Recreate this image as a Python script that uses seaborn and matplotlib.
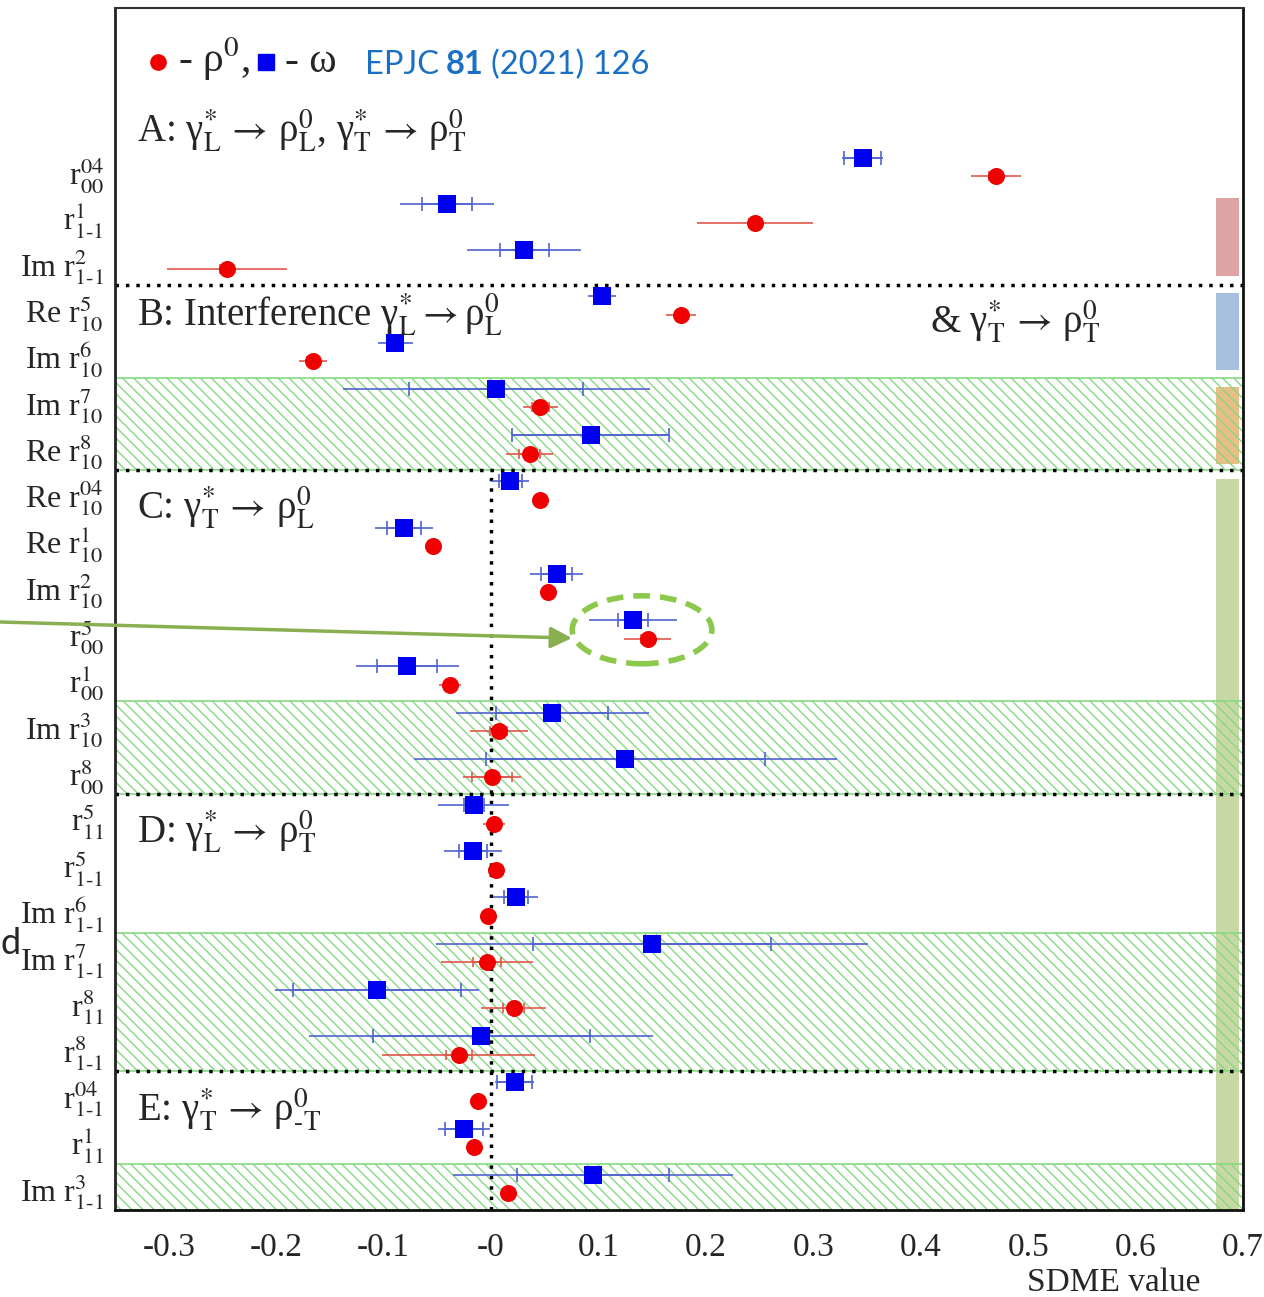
import matplotlib
matplotlib.use('Agg')
import numpy as np
import pandas as pd
import seaborn as sns
import matplotlib.pyplot as plt
from matplotlib.patches import Ellipse, Rectangle

# SDME names from top to bottom
sdme_labels = [
    r'r$^{04}_{00}$', r'r$^{1}_{1\text{-}1}$', r'Im r$^{2}_{1\text{-}1}$',
    r'Re r$^{5}_{10}$', r'Im r$^{6}_{10}$', r'Im r$^{7}_{10}$', r'Re r$^{8}_{10}$',
    r'Re r$^{04}_{10}$', r'Re r$^{1}_{10}$', r'Im r$^{2}_{10}$', r'r$^{5}_{00}$',
    r'r$^{1}_{00}$', r'Im r$^{3}_{10}$', r'r$^{8}_{00}$',
    r'r$^{5}_{11}$', r'r$^{5}_{1\text{-}1}$', r'Im r$^{6}_{1\text{-}1}$',
    r'Im r$^{7}_{1\text{-}1}$', r'r$^{8}_{11}$', r'r$^{8}_{1\text{-}1}$',
    r'r$^{04}_{1\text{-}1}$', r'r$^{1}_{11}$', r'Im r$^{3}_{1\text{-}1}$',
]

# omega: value, total error, statistical error
omega_val = [0.346, -0.041, 0.031, 0.103, -0.089, 0.005, 0.093, 0.018, -0.081, 0.061,
             0.132, -0.078, 0.057, 0.125, -0.016, -0.017, 0.023, 0.150, -0.106, -0.009,
             0.022, -0.025, 0.095]
omega_tot = [0.019, 0.044, 0.053, 0.013, 0.016, 0.143, 0.073, 0.017, 0.027, 0.025,
             0.041, 0.048, 0.090, 0.197, 0.033, 0.027, 0.021, 0.201, 0.095, 0.160,
             0.018, 0.024, 0.130]
omega_stat = [0.017, 0.023, 0.023, 0.007, 0.007, 0.081, 0.073, 0.011, 0.016, 0.014,
              0.014, 0.028, 0.052, 0.130, 0.0095, 0.013, 0.011, 0.111, 0.078, 0.101,
              0.016, 0.018, 0.071]

# rho0: value, total error, statistical error
rho_val = [0.470, 0.246, -0.246, 0.177, -0.166, 0.046, 0.036, 0.046, -0.054, 0.053,
           0.146, -0.038, 0.007, 0.001, 0.003, 0.005, -0.003, -0.004, 0.021, -0.030,
           -0.012, -0.016, 0.016]
rho_tot = [0.023, 0.054, 0.056, 0.014, 0.013, 0.016, 0.022, 0.005, 0.005, 0.005,
           0.022, 0.010, 0.027, 0.027, 0.010, 0.005, 0.005, 0.043, 0.030, 0.071,
           0.005, 0.005, 0.008]
rho_stat = [0.006, 0.006, 0.006, 0.005, 0.005, 0.008, 0.010, 0.004, 0.004, 0.004,
            0.006, 0.005, 0.008, 0.019, 0.005, 0.004, 0.004, 0.013, 0.010, 0.012,
            0.004, 0.004, 0.005]

xtick_vals = [-0.3, -0.2, -0.1, 0.0, 0.1, 0.2, 0.3, 0.4, 0.5, 0.6, 0.7]
xtick_text = ['-0.3', '-0.2', '-0.1', '-0', '0.1', '0.2', '0.3', '0.4', '0.5', '0.6', '0.7']

sns.set_style('white')
plt.rcParams['font.family'] = ['Liberation Serif', 'DejaVu Serif']
plt.rcParams['mathtext.fontset'] = 'stix'
plt.rcParams['hatch.linewidth'] = 1.0

n = len(sdme_labels)
top = np.arange(n, 0, -1)          # upper edge of each row
omega_y = top - 0.24
rho_y = top - 0.64

df_o = pd.DataFrame({'value': omega_val, 'pos': omega_y})
df_r = pd.DataFrame({'value': rho_val, 'pos': rho_y})

W, H = 1264, 1297
fig = plt.figure(figsize=(W / 100, H / 100), dpi=100)
ax = fig.add_axes([115 / W, 1 - 1210 / H, 1128 / W, 1202 / H])
ax.set_xlim(-0.35, 0.7)
ax.set_ylim(0, 26)

# hatched bands
for lo, hi in [(16, 18), (9, 11), (3, 6), (0, 1)]:
    ax.axhspan(lo, hi, facecolor='none', edgecolor='#86d983', hatch='\\\\\\',
               linewidth=1.2, zorder=0.5)

# side colour bars
for y0, y1, c in [(20.2, 21.9, '#dea3a3'), (18.17, 19.84, '#a6bfdd'),
                  (16.14, 17.8, '#e8bd86'), (0, 15.81, '#c8d8a4')]:
    ax.add_patch(Rectangle((0.675, y0), 0.021, y1 - y0, facecolor=c,
                           edgecolor='none', zorder=0.3))

# separators
for k in [20, 16, 9, 3]:
    ax.axhline(k, color='black', ls=(0, (1, 2)), lw=2.5, zorder=2)
ax.vlines(0, 0, 16, color='black', ls=(0, (1, 2)), lw=2.5, zorder=2)

# error bars
ax.errorbar(omega_val, omega_y, xerr=omega_tot, fmt='none', ecolor='#5064cf',
            elinewidth=1.2, zorder=3)
ax.errorbar(omega_val, omega_y, xerr=omega_stat, fmt='none', ecolor='#5064cf',
            elinewidth=1.2, capsize=5, capthick=1.2, zorder=3)
ax.errorbar(rho_val, rho_y, xerr=rho_tot, fmt='none', ecolor='#e0574a',
            elinewidth=1.2, zorder=3)
ax.errorbar(rho_val, rho_y, xerr=rho_stat, fmt='none', ecolor='#e0574a',
            elinewidth=1.2, capsize=3.5, capthick=1.2, zorder=3)

sns.scatterplot(data=df_o, x='value', y='pos', marker='s', color='#0000f0', s=170,
                linewidth=0, ax=ax, zorder=4)
sns.scatterplot(data=df_r, x='value', y='pos', marker='o', color='#f00000', s=150,
                linewidth=0, ax=ax, zorder=4)

# axes cosmetics
ax.set_xlabel('')
ax.set_ylabel('')
ax.set_yticks(top - 0.5)
ax.set_yticklabels(sdme_labels, fontsize=23)
ax.set_yticks(np.arange(0, 27), minor=True)
ax.tick_params(axis='y', which='major', length=0, pad=8)
ax.tick_params(axis='y', which='minor', direction='in', length=8, width=1.2)
ax.set_xticks(xtick_vals)
ax.set_xticklabels(xtick_text, fontsize=24)
ax.set_xticks(np.arange(-0.34, 0.7, 0.02), minor=True)
ax.tick_params(axis='x', which='major', direction='in', length=13, width=1.2, pad=16)
ax.tick_params(axis='x', which='minor', direction='in', length=6, width=1.0)
for side, lw, c in [('left', 2, '#222222'), ('bottom', 2, '#111111'),
                    ('right', 2, '#111111'), ('top', 1.5, '#333333')]:
    ax.spines[side].set_linewidth(lw)
    ax.spines[side].set_color(c)

fig.text(1200 / W, 1 - 1283 / H, 'SDME value', fontsize=24, ha='right', va='center')

# section titles
sec_kw = dict(fontsize=28, ha='left', va='baseline')
arr = r'\,\rightarrow\,'
fig.text(137 / W, 1 - 142 / H,
         r'A: γ$^{*}_{\mathrm{L}}' + arr + r'$ρ$^{0}_{\mathrm{L}}$, γ$^{*}_{\mathrm{T}}'
         + arr + r'$ρ$^{0}_{\mathrm{T}}$', **sec_kw)
fig.text(137 / W, 1 - 326 / H,
         r'B: Interference γ$^{*}_{\mathrm{L}}\rightarrow$ρ$^{0}_{\mathrm{L}}$', **sec_kw)
fig.text(930 / W, 1 - 333 / H,
         r'& γ$^{*}_{\mathrm{T}}' + arr + r'$ρ$^{0}_{\mathrm{T}}$', **sec_kw)
fig.text(137 / W, 1 - 519 / H,
         r'C: γ$^{*}_{\mathrm{T}}' + arr + r'$ρ$^{0}_{\mathrm{L}}$', **sec_kw)
fig.text(137 / W, 1 - 843 / H,
         r'D: γ$^{*}_{\mathrm{L}}' + arr + r'$ρ$^{0}_{\mathrm{T}}$', **sec_kw)
fig.text(137 / W, 1 - 1121 / H,
         r'E: γ$^{*}_{\mathrm{T}}' + arr + r'$ρ$^{0}_{\text{-T}}$', **sec_kw)

# legend line
ax.plot([-0.310], [24.83], marker='o', color='#f00000', ms=11, ls='none')
ax.plot([-0.2095], [24.83], marker='s', color='#0000f0', ms=11, ls='none')
fig.text(178 / W, 1 - 72 / H, r'- ρ$^{0}$,', fontsize=30, ha='left', va='baseline')
fig.text(285 / W, 1 - 72 / H, '- ω', fontsize=30, ha='left', va='baseline')

ref_kw = dict(fontsize=23.5, color='#1a70c4', family=['Lato', 'DejaVu Sans'],
              ha='left', va='baseline')
t1 = fig.text(365 / W, 1 - 74 / H, 'EPJC', **ref_kw)
fig.canvas.draw()
x1 = t1.get_window_extent().x1 + 7
t2 = fig.text(x1 / W, 1 - 74 / H, '81', fontweight='bold', **ref_kw)
fig.canvas.draw()
x2 = t2.get_window_extent().x1 + 7
fig.text(x2 / W, 1 - 74 / H, '(2021) 126', **ref_kw)

# highlight
ax.add_patch(Ellipse((0.1406, 12.55), 0.130, 1.47, fill=False, ls=(0, (3, 1.8)),
                     lw=4, ec='#8cc84b', zorder=5))
ax.annotate('', xy=(0.0754, 12.37), xytext=(0.0, 1 - 622 / H),
            textcoords='figure fraction',
            arrowprops=dict(arrowstyle='-|>', color='#8aaf50', lw=2.5,
                            mutation_scale=32, shrinkA=0, shrinkB=0),
            annotation_clip=False, zorder=5)

fig.text(0.0, 1 - 943 / H, 'd', fontsize=26, family=['Lato', 'DejaVu Sans'],
         ha='left', va='center')

fig.savefig('out.png', dpi=100, facecolor='white')
